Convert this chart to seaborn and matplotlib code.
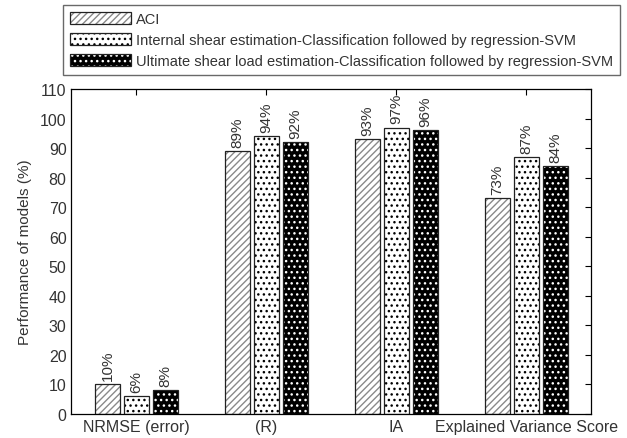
import matplotlib
matplotlib.use("Agg")
import matplotlib.pyplot as plt
from matplotlib.patches import Patch, Rectangle
import seaborn as sns
import pandas as pd

categories = ["NRMSE (error)", "(R)", "IA", "Explained Variance Score"]
series_names = [
    "ACI",
    "Internal shear estimation-Classification followed by regression-SVM",
    "Ultimate shear load estimation-Classification followed by regression-SVM",
]
aci_values = [10, 89, 93, 73]
internal_values = [6, 94, 97, 87]
ultimate_values = [8, 92, 96, 84]
y_ticks = [0, 10, 20, 30, 40, 50, 60, 70, 80, 90, 100, 110]

sns.set_theme(style="white")
plt.rcParams["font.family"] = ["Liberation Sans", "DejaVu Sans"]
plt.rcParams["hatch.linewidth"] = 1.0

txt = "#333333"

rows = []
for name, vals in zip(series_names, [aci_values, internal_values, ultimate_values]):
    for c, v in zip(categories, vals):
        rows.append({"metric": c, "model": name, "value": v})
df = pd.DataFrame(rows)

fig = plt.figure(figsize=(6.27, 4.39), dpi=100)
ax = fig.add_axes([0.114, 0.0547, 0.829, 0.740])

sns.barplot(data=df, x="metric", y="value", hue="model", order=categories,
            hue_order=series_names, width=0.67, gap=0.15, ax=ax, legend=False,
            errorbar=None)

# styles: (face, hatch, hatchcolor)
styles = [
    ("white", "/////", "#8a8a8a"),
    ("white", "...", "black"),
    ("black", "...", "white"),
]
for cont, (fc, hatch, hc), name in zip(ax.containers, styles, series_names):
    for bar in cont:
        bar.set_facecolor(fc)
        bar.set_hatch(hatch)
        bar.set_edgecolor(hc)
        bar.set_linewidth(0)
        ax.add_patch(Rectangle((bar.get_x(), bar.get_y()), bar.get_width(), bar.get_height(),
                               fill=False, edgecolor="#222222", linewidth=0.9, zorder=bar.get_zorder() + 0.1))
    ax.bar_label(cont, labels=[f"{int(b.get_height())}%" for b in cont], rotation=90,
                 padding=3, fontsize=11, color=txt)

ax.set_xlim(-0.5, 3.5)
ax.set_ylim(0, 110)
ax.set_yticks(y_ticks)
ax.set_xlabel("")
ax.set_ylabel("Performance of models (%)", fontsize=11, color=txt, labelpad=6)
ax.tick_params(axis="both", which="both", direction="in", labelsize=11.5, colors="black",
               labelcolor=txt, top=True, right=True, length=4, width=0.8)
for s in ax.spines.values():
    s.set_visible(True)
    s.set_color("black")
    s.set_linewidth(0.9)

handles = []
for fc, hatch, hc in styles:
    handles.append((Patch(facecolor=fc, hatch=hatch, edgecolor=hc, linewidth=0),
                    Patch(fill=False, edgecolor="#222222", linewidth=0.9)))
leg = fig.legend(handles, series_names, loc="upper right",
                 bbox_to_anchor=(620 / 627, 1 - 6 / 439), fontsize=10.5,
                 frameon=True, fancybox=False, edgecolor="#444444",
                 handlelength=4.2, handleheight=0.9, handletextpad=0.3,
                 labelspacing=0.45, borderpad=0.5, borderaxespad=0)
for t in leg.get_texts():
    t.set_color(txt)
leg.get_frame().set_linewidth(1.0)

fig.savefig("out.png", dpi=100)
